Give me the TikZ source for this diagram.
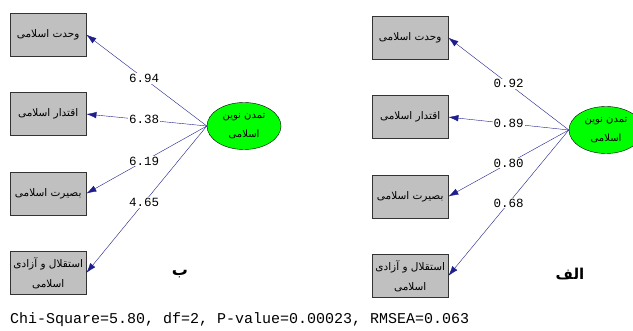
\documentclass[tikz,border=0pt]{standalone}
\usepackage{fontspec}
\setmonofont{Liberation Mono}
\newfontfamily\arabicfont[Script=Arabic]{DejaVu Sans}
\TeXXeTstate=1
\usetikzlibrary{positioning,shapes.geometric,arrows.meta}
\definecolor{lnkblue}{RGB}{30,30,140}
\definecolor{boxgray}{RGB}{192,192,192}
\newcommand{\fa}[1]{\beginR #1\endR}

\begin{document}
\begin{tikzpicture}[x=1pt, y=-1pt, node distance=36pt,
	obs/.style={draw=black!80, fill=boxgray, minimum width=76pt, minimum height=43pt, inner sep=2pt, align=center, font=\fontsize{10.5}{20}\arabicfont},
	latent/.style={ellipse, draw, fill=green, minimum width=74pt, minimum height=47pt, inner sep=0pt, align=center, font=\fontsize{10}{19}\arabicfont},
	load/.style={draw=lnkblue, -{Latex[length=10pt,width=6.5pt]}},
	coef/.style={fill=white, inner sep=1pt, font=\fontsize{12.5}{14}\ttfamily, pos=0.52}]
			\useasboundingbox (0,0) rectangle (633,331);
			
			% left model (b)
			\node[obs, anchor=north west] (b1) at (10,13) {\fa{وحدت اسلامی}};
			\node[obs, below=of b1] (b2) {\fa{اقتدار اسلامی}};
			\node[obs, below=of b2] (b3) {\fa{بصیرت اسلامی}};
			\node[obs, below=of b3] (b4) {\fa{استقلال و آزادی}\\\fa{اسلامی}};
			
			\node[latent] (tb) at (244,126) {\fa{تمدن نوین}\\\fa{اسلامی}};
			
			\draw[load] (tb.west) -- node[coef] {6.94} (b1.east);
			\draw[load] (tb.west) -- node[coef] {6.38} (b2.east);
			\draw[load] (tb.west) -- node[coef] {6.19} (b3.east);
			\draw[load] (tb.west) -- node[coef] {4.65} (b4.east);
			
			\node[font=\fontsize{16}{18}\arabicfont\bfseries] (lb) at (180,274) {\fa{ب}};
			
			% right model (alef)
			\node[obs, anchor=north west] (a1) at (372,16) {\fa{وحدت اسلامی}};
			\node[obs, below=of a1] (a2) {\fa{اقتدار اسلامی}};
			\node[obs, below=of a2] (a3) {\fa{بصیرت اسلامی}};
			\node[obs, below=of a3] (a4) {\fa{استقلال و آزادی}\\\fa{اسلامی}};
			
			\node[latent] (ta) at (606,130) {\fa{تمدن نوین}\\\fa{اسلامی}};
			
			\draw[load] (ta.west) -- node[coef, pos=0.5] {0.92} (a1.east);
			\draw[load] (ta.west) -- node[coef, pos=0.5] {0.89} (a2.east);
			\draw[load] (ta.west) -- node[coef, pos=0.5] {0.80} (a3.east);
			\draw[load] (ta.west) -- node[coef, pos=0.5] {0.68} (a4.east);
			
			\node[font=\fontsize{15}{18}\arabicfont\bfseries] (la) at (570,274) {\fa{الف}};
			
			% fit statistics
			\node[anchor=west, inner sep=0pt, font=\fontsize{15}{17}\ttfamily] (fit) at (10,320) {Chi-Square=5.80, df=2, P-value=0.00023, RMSEA=0.063};
			
\end{tikzpicture}
\end{document}
